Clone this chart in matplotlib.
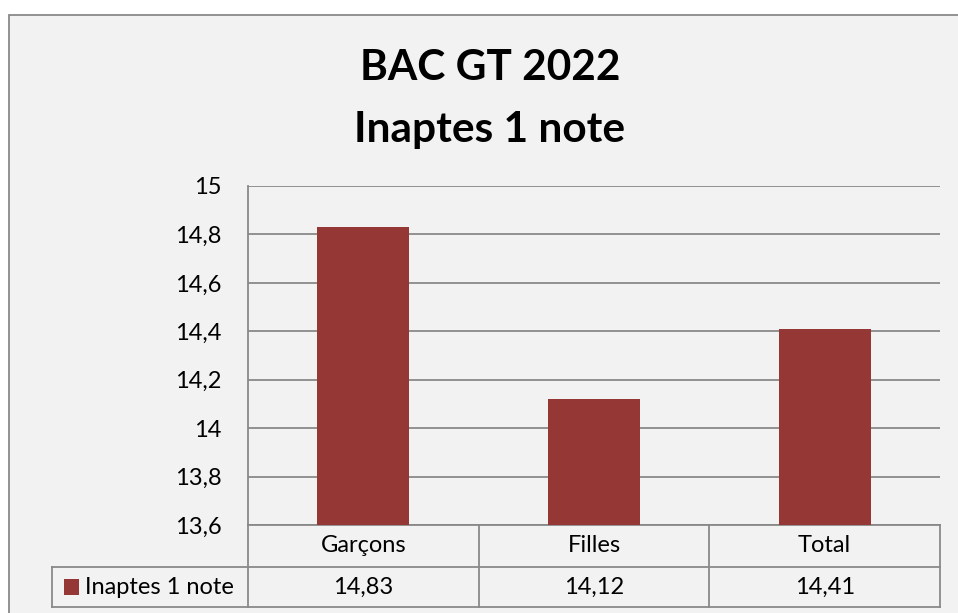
import matplotlib.pyplot as plt
from matplotlib.patches import Rectangle
from matplotlib.transforms import blended_transform_factory

plt.rcParams['font.family'] = ['Lato', 'DejaVu Sans']

# data
categories = ['Garçons', 'Filles', 'Total']
values = [14.83, 14.12, 14.41]
series_name = 'Inaptes 1 note'
y_ticks = [13.6, 13.8, 14.0, 14.2, 14.4, 14.6, 14.8, 15.0]

bar_color = '#953735'
grid_color = '#898989'
bg_color = '#f2f2f2'

W, H = 958, 613
fig = plt.figure(figsize=(W / 100, H / 100), dpi=100)
fig.patch.set_facecolor('white')

# chart frame (runs past right and bottom edges)
fig.patches.append(Rectangle((9 / W, -0.1), 1.2, 1 - 15 / H + 0.1,
                             transform=fig.transFigure, facecolor=bg_color,
                             edgecolor=grid_color, linewidth=1.3, zorder=-5))

left, right = 248 / W, 940 / W
top, bottom = 1 - 186 / H, 1 - 525 / H
ax = fig.add_axes([left, bottom, right - left, top - bottom])
ax.set_facecolor('none')

x = range(len(categories))
ax.bar(x, values, width=0.4, color=bar_color, zorder=3)

fs = 17
ax.set_xlim(-0.5, len(categories) - 0.5)
ax.set_ylim(13.6, 15.0)
ax.set_yticks(y_ticks)
ax.set_yticklabels([('%g' % v).replace('.', ',') for v in y_ticks], fontsize=fs)
ax.tick_params(axis='y', length=0, pad=19)
ax.set_xticks([])
ax.yaxis.grid(True, color=grid_color, linewidth=1.3)
ax.set_axisbelow(True)
for s in ['top', 'right', 'bottom']:
    ax.spines[s].set_visible(False)
ax.spines['left'].set_color(grid_color)
ax.spines['left'].set_linewidth(1.3)

# data table below the plot
tr = blended_transform_factory(ax.transData, ax.transAxes)
ph = top - bottom
r1 = -(567 - 525) / H / ph
r2 = -(607 - 525) / H / ph
xl = (52 - 248) / (692 / 3) - 0.5
n = len(categories)
lk = dict(color=grid_color, linewidth=1.3, transform=tr, clip_on=False)
ax.plot([-0.5, n - 0.5], [0, 0], **lk)
ax.plot([xl, n - 0.5], [r1, r1], **lk)
ax.plot([xl, n - 0.5], [r2, r2], **lk)
ax.plot([xl, xl], [r1, r2], **lk)
for b in range(n + 1):
    ax.plot([b - 0.5, b - 0.5], [0, r2], **lk)
for i, (c, v) in enumerate(zip(categories, values)):
    ax.text(i, r1 / 2, c, transform=tr, ha='center', va='center', fontsize=fs)
    ax.text(i, (r1 + r2) / 2, ('%.2f' % v).replace('.', ','), transform=tr,
            ha='center', va='center', fontsize=fs)
ax.add_patch(Rectangle((xl + 0.05, (r1 + r2) / 2 - 0.025), 0.065, 0.05,
                       transform=tr, facecolor=bar_color, clip_on=False))
ax.text(xl + 0.145, (r1 + r2) / 2, series_name, transform=tr, ha='left',
        va='center', fontsize=fs)

fig.text(490 / W, 1 - 99 / H, 'BAC GT 2022\nInaptes 1 note', ha='center',
         va='center', fontsize=30.5, fontweight='bold', linespacing=1.75)

fig.savefig('out.png', dpi=100, facecolor=fig.get_facecolor())
